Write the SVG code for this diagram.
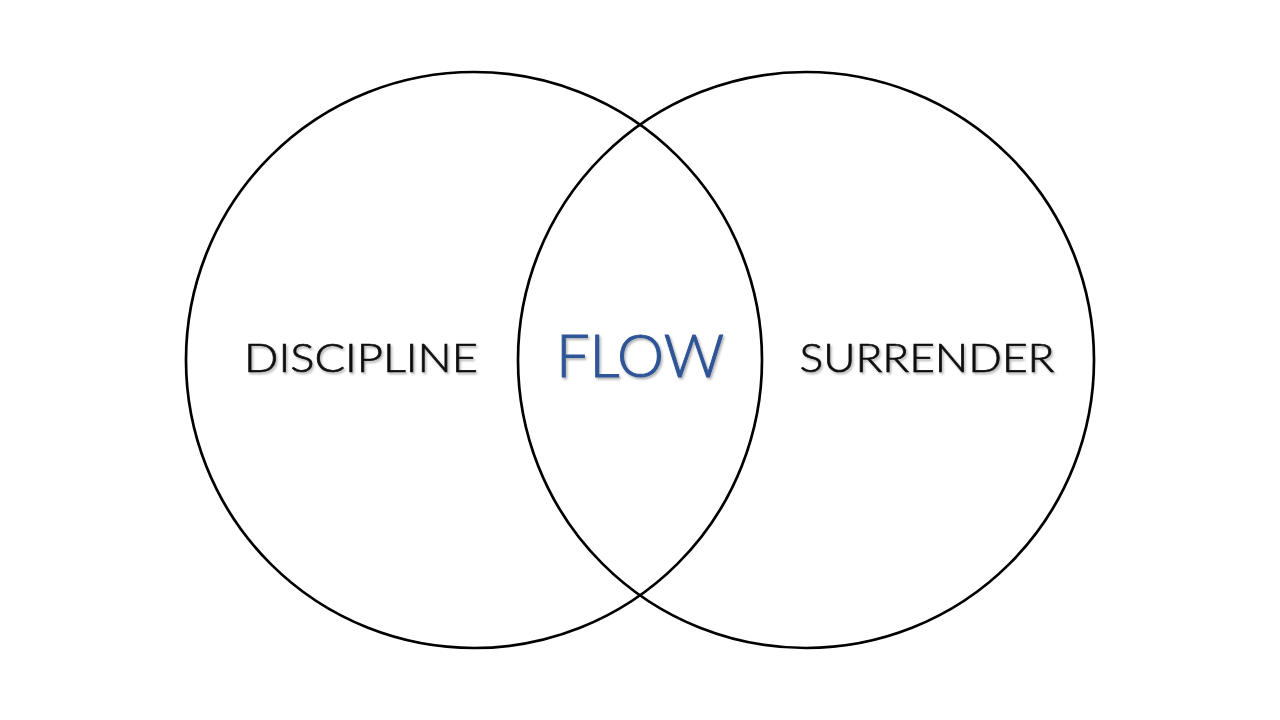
<svg xmlns="http://www.w3.org/2000/svg" width="1280" height="720" viewBox="0 0 1280 720">
<defs>
<filter id="sh" x="-10%" y="-20%" width="130%" height="150%">
<feDropShadow dx="1.5" dy="2" stdDeviation="1.2" flood-color="#000" flood-opacity="0.3"/>
</filter>
<style>
.c{fill:none;stroke:#000;stroke-width:2.7}
.t{font-family:Lato,"Liberation Sans",sans-serif;font-weight:300;font-size:40px;fill:#111;stroke:#111;stroke-width:0.7;text-anchor:middle;filter:url(#sh)}
.f{font-family:Lato,"Liberation Sans",sans-serif;font-weight:300;font-size:60px;fill:#2F5496;stroke:#2F5496;stroke-width:1;text-anchor:middle;filter:url(#sh)}
</style>
</defs>
<rect width="1280" height="720" fill="#fff"/>
<g id="discipline">
<circle class="c" cx="474" cy="360" r="288"/>
<text class="t" x="361" y="372" textLength="234" lengthAdjust="spacingAndGlyphs">DISCIPLINE</text>
</g>
<g id="surrender">
<circle class="c" cx="806" cy="360" r="288"/>
<text class="t" x="927" y="372" textLength="255" lengthAdjust="spacingAndGlyphs">SURRENDER</text>
</g>
<g id="flow">
<text class="f" x="640" y="377" textLength="168" lengthAdjust="spacingAndGlyphs">FLOW</text>
</g>
<g id="connectors"/>
</svg>
